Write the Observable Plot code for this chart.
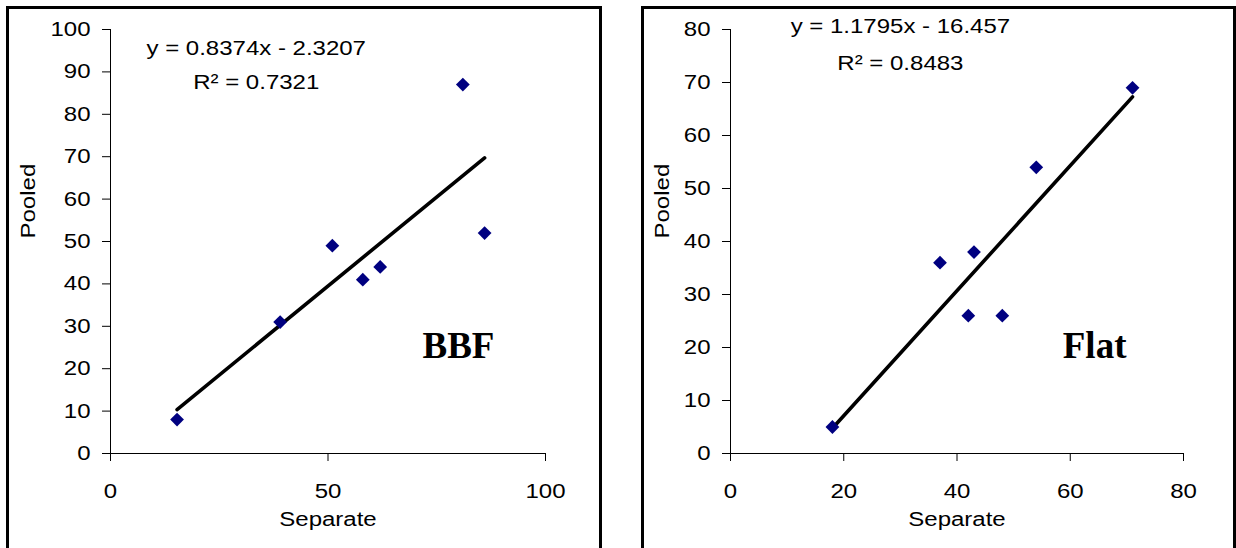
<!DOCTYPE html>
<html><head><meta charset="utf-8">
<script src="https://cdn.jsdelivr.net/npm/d3@7"></script>
<script src="https://cdn.jsdelivr.net/npm/@observablehq/plot@0.6"></script>
<style>
html,body{margin:0;padding:0;background:#fff;width:1236px;height:548px;overflow:hidden;}
.panel{position:absolute;border:3px solid #000;border-bottom:none;box-sizing:border-box;}
.chart{position:absolute;top:0;}
</style></head><body>
<div id="c1" class="chart" style="left:0;width:620px"></div>
<div id="c2" class="chart" style="left:620px;width:616px"></div>
<div class="panel" style="left:6px;top:6px;width:596px;height:560px"></div>
<div class="panel" style="left:641px;top:6px;width:595px;height:560px"></div>
<script>
// BBF panel
const bbfSeparate = [15.3, 39, 51, 58, 62, 86, 81];
const bbfPooled   = [8, 31, 49, 41, 44, 52, 87];
const bbfXTicks = [0, 50, 100];
const bbfYTicks = [0, 10, 20, 30, 40, 50, 60, 70, 80, 90, 100];
const bbfEquation = "y = 0.8374x - 2.3207";
const bbfR2 = "R\u00B2 = 0.7321";
const bbfTag = "BBF";

// Flat panel
const flatSeparate = [18, 37, 43, 42, 48, 71, 54];
const flatPooled   = [5, 36, 38, 26, 26, 69, 54];
const flatXTicks = [0, 20, 40, 60, 80];
const flatYTicks = [0, 10, 20, 30, 40, 50, 60, 70, 80];
const flatEquation = "y = 1.1795x - 16.457";
const flatR2 = "R\u00B2 = 0.8483";
const flatTag = "Flat";

const xLabel = "Separate";
const yLabel = "Pooled";

const SANS = "'Liberation Sans', Arial, Helvetica, sans-serif";
const SERIF = "'Liberation Serif', 'Times New Roman', serif";
const STRETCH = 1.2;

function panel(o) {
  const data = o.xs.map((x, i) => ({x, y: o.ys[i]}));
  const xMax = o.xTicks[o.xTicks.length - 1];
  const yMax = o.yTicks[o.yTicks.length - 1];
  return Plot.plot({
    width: o.width, height: 548,
    marginLeft: 110, marginRight: o.marginRight, marginTop: 29, marginBottom: 95,
    style: {background: "transparent", fontFamily: SANS, fontSize: "20px", color: "#000", overflow: "visible"},
    x: {domain: [0, xMax], ticks: o.xTicks, tickSize: 8, tickPadding: 22, label: null},
    y: {domain: [0, yMax], ticks: o.yTicks, tickSize: 8, tickPadding: 12, label: null},
    marks: [
      Plot.ruleX([0], {stroke: "#000", strokeWidth: 1}),
      Plot.ruleY([0], {stroke: "#000", strokeWidth: 1}),
      Plot.linearRegressionY(data, {x: "x", y: "y", stroke: "#000", strokeWidth: 3.6, ci: 0}),
      Plot.dot(data, {x: "x", y: "y", symbol: "diamond2", r: 6.2, fill: "#000080", stroke: "none"}),
      Plot.text([{x: o.eqX, y: o.eqY, t: o.eq}, {x: o.eqX, y: o.r2Y, t: o.r2}],
        {x: "x", y: "y", text: "t", fontSize: 20, fontFamily: SANS, fill: "#000", textAnchor: "middle"}),
      Plot.text([{x: o.tagX, y: o.tagY, t: o.tag}],
        {x: "x", y: "y", text: "t", fontSize: 37, fontFamily: SERIF, fontWeight: "bold", fill: "#000", textAnchor: "middle"}),
      Plot.text([xLabel], {frameAnchor: "bottom", dy: 72, fontSize: 20, fontFamily: SANS, fill: "#000"}),
      Plot.text([yLabel], {frameAnchor: "left", dx: o.yLabelDx, dy: -3, rotate: -90, fontSize: 20, fontFamily: SANS, fill: "#000"})
    ]
  });
}

function stretchText(svg, skip) {
  svg.querySelectorAll("text").forEach(t => {
    if (skip.includes(t.textContent.trim())) return;
    const len = t.getComputedTextLength();
    if (len > 0) {
      t.setAttribute("textLength", (len * STRETCH).toFixed(2));
      t.setAttribute("lengthAdjust", "spacingAndGlyphs");
    }
  });
}

const p1 = panel({xs: bbfSeparate, ys: bbfPooled, xTicks: bbfXTicks, yTicks: bbfYTicks,
  width: 620, marginRight: 75, eq: bbfEquation, r2: bbfR2, eqX: 33.5, eqY: 95.4, r2Y: 87.4,
  tag: bbfTag, tagX: 80, tagY: 25.2, yLabelDx: -81.5});
const p2 = panel({xs: flatSeparate, ys: flatPooled, xTicks: flatXTicks, yTicks: flatYTicks,
  width: 616, marginRight: 53, eq: flatEquation, r2: flatR2, eqX: 30, eqY: 80.5, r2Y: 73.5,
  tag: flatTag, tagX: 64.3, tagY: 20.2, yLabelDx: -67.5});
document.getElementById("c1").appendChild(p1);
document.getElementById("c2").appendChild(p2);
stretchText(p1, [bbfTag]);
stretchText(p2, [flatTag]);
</script>
</body></html>
